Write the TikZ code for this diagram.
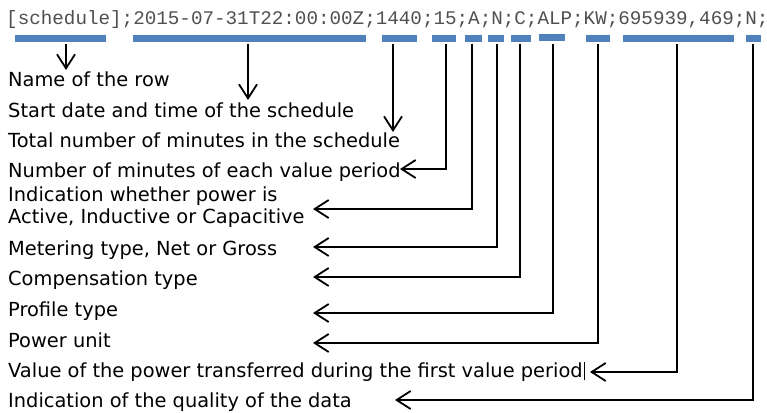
\documentclass[tikz,border=0pt]{standalone}
\usepackage{fontspec}
\setmainfont{DejaVu Sans}
\newfontfamily\codefont{Liberation Mono}
\usetikzlibrary{arrows.meta}
\definecolor{barblue}{HTML}{4F81BD}
\definecolor{codegray}{HTML}{505050}
\begin{document}
\begin{tikzpicture}[x=1pt,y=-1pt,
  bar/.style={fill=barblue, draw=none, inner sep=0pt, minimum height=7pt, anchor=north west},
  lbl/.style={anchor=base west, inner sep=0pt, font=\fontsize{19.4}{22}\selectfont},
  arr/.style={line width=1.8pt, -{Straight Barb[length=14pt,width=18pt]}},
]
\useasboundingbox (0,0) rectangle (767,412);
\fill[white] (0,0) rectangle (767,412);

% code line
\node[anchor=base west, inner sep=0pt, text=codegray,
      font=\codefont\fontsize{19.25}{22}\selectfont] (code) at (6,25)
  {[schedule];2015-07-31T22:00:00Z;1440;15;A;N;C;ALP;KW;695939,469;N;};

% bars
\node[bar, minimum width=91pt]  (b1)  at (15,35)  {};
\node[bar, minimum width=233pt] (b2)  at (133,35) {};
\node[bar, minimum width=35pt]  (b3)  at (382,35) {};
\node[bar, minimum width=24pt]  (b4)  at (432,35) {};
\node[bar, minimum width=17pt]  (b5)  at (465,35) {};
\node[bar, minimum width=16pt]  (b6)  at (488,35) {};
\node[bar, minimum width=20pt]  (b7)  at (511,35) {};
\node[bar, minimum width=26pt]  (b8)  at (539,34) {};
\node[bar, minimum width=24pt]  (b9)  at (586,35) {};
\node[bar, minimum width=111pt] (b10) at (623,35) {};
\node[bar, minimum width=15pt]  (b11) at (746,35) {};

% labels
\node[lbl] (l1)  at (8,86)  {Name of the row};
\node[lbl] (l2)  at (8,117) {Start date and time of the schedule};
\node[lbl] (l3)  at (8,147) {Total number of minutes in the schedule};
\node[lbl] (l4)  at (8,177) {Number of minutes of each value period};
\node[lbl] (l5a) at (8,201) {Indication whether power is};
\node[lbl] (l5)  at (8,223) {Active, Inductive or Capacitive};
\node[lbl] (l6)  at (8,255) {Metering type, Net or Gross};
\node[lbl] (l7)  at (8,285) {Compensation type};
\node[lbl] (l8)  at (8,316) {Profile type};
\node[lbl] (l9)  at (8,347) {Power unit};
\node[lbl] (l10) at (8,377) {Value of the power transferred during the first value period\hspace{1pt}\rule[-3pt]{0.9pt}{18pt}};
\node[lbl] (l11) at (8,407) {Indication of the quality of the data};

% connector start points (under the bars)
\coordinate (s1)  at (66,44);
\coordinate (s2)  at (248,44);
\coordinate (s3)  at (393,44);
\coordinate (s4)  at (446,44);
\coordinate (s5)  at (472,44);
\coordinate (s6)  at (497,44);
\coordinate (s7)  at (520,44);
\coordinate (s8)  at (553,44);
\coordinate (s9)  at (598,44);
\coordinate (s10) at (677,44);
\coordinate (s11) at (753,44);

% connector tips
\coordinate (t1)  at (66,70);
\coordinate (t2)  at (248,100);
\coordinate (t3)  at (393,132);
\coordinate (t4)  at (400,169);
\coordinate (t5)  at (313,209);
\coordinate (t6)  at (313,247);
\coordinate (t7)  at (313,277);
\coordinate (t8)  at (313,313);
\coordinate (t9)  at (313,343);
\coordinate (t10) at (590,372);
\coordinate (t11) at (395,400);

\draw[arr] (s1) -- (t1);
\draw[arr] (s2) -- (t2);
\draw[arr] (s3) -- (t3);
\draw[arr] (s4) |- (t4);
\draw[arr] (s5) |- (t5);
\draw[arr] (s6) |- (t6);
\draw[arr] (s7) |- (t7);
\draw[arr] (s8) |- (t8);
\draw[arr] (s9) |- (t9);
\draw[arr] (s10) |- (t10);
\draw[arr] (s11) |- (t11);
\end{tikzpicture}
\end{document}
